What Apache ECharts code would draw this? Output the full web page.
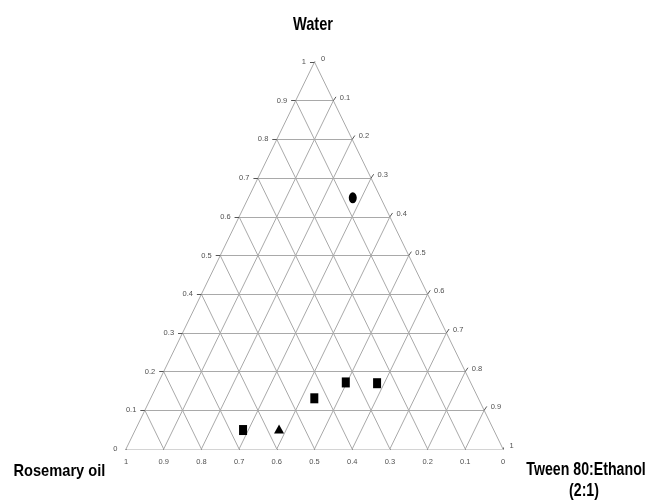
<!DOCTYPE html>
<html><head><meta charset="utf-8">
<script src="https://cdn.jsdelivr.net/npm/echarts@6/dist/echarts.min.js"></script>
<style>html,body{margin:0;padding:0;background:#fff}#c{width:649px;height:501px}</style>
</head><body><div id="c"></div>
<script>
// Tick values and labels
const tickValues = [0, 0.1, 0.2, 0.3, 0.4, 0.5, 0.6, 0.7, 0.8, 0.9, 1];
const waterLabels = ['0','0.1','0.2','0.3','0.4','0.5','0.6','0.7','0.8','0.9','1'];   // left side
const tweenLabels = ['0','0.1','0.2','0.3','0.4','0.5','0.6','0.7','0.8','0.9','1'];   // right side (top->bottom)
const oilLabels   = ['0','0.1','0.2','0.3','0.4','0.5','0.6','0.7','0.8','0.9','1'];   // bottom (right->left)

// Data points (fractions): water, tween, oil
const squareWater = [0.172, 0.170, 0.131, 0.049];
const squareTween = [0.497, 0.581, 0.434, 0.286];
const squareOil   = [0.331, 0.249, 0.435, 0.665];
const triWater = [0.052];
const triTween = [0.380];
const triOil   = [0.568];
const circWater = [0.649];
const circTween = [0.277];
const circOil   = [0.074];

// ternary -> cartesian (x in [0,1] across base, y = water)
function toXY(w, t) { return [t + w / 2, w]; }

const gridLines = [];
tickValues.forEach(v => {
  gridLines.push({coords: [toXY(v, 0), toXY(v, 1 - v)]});
  gridLines.push({coords: [toXY(0, v), toXY(1 - v, v)]});
  gridLines.push({coords: [toXY(0, 1 - v), toXY(1 - v, 0)]});
});
const tickMarks = [];
tickValues.forEach(v => {
  const l = toXY(v, 0);
  tickMarks.push({coords: [l, [l[0] - 0.012, l[1]]]});
  const r = toXY(1 - v, v);
  tickMarks.push({coords: [r, [r[0] + 0.007, r[1] + 0.01]]});
  const b = toXY(0, v);
  tickMarks.push({coords: [b, [b[0], b[1] - 0.01]]});
});

const lblStyle = {fontFamily: 'Liberation Sans, Arial', fontSize: 7.5, color: '#222'};
const leftLbl = tickValues.map((v, i) => ({value: toXY(v, 0), label: {formatter: waterLabels[i]}}));
const rightLbl = tickValues.map((v, i) => ({value: toXY(1 - v, v), label: {formatter: tweenLabels[i]}}));
const bottomLbl = tickValues.map((v, i) => ({value: toXY(0, v), label: {formatter: oilLabels[10 - i]}}));

const sq = squareWater.map((w, i) => toXY(w, squareTween[i]));
const tr = triWater.map((w, i) => toXY(w, triTween[i]));
const ci = circWater.map((w, i) => toXY(w, circTween[i]));

const chart = echarts.init(document.getElementById('c'), null, {renderer: 'canvas'});
const font = 'Liberation Sans, Arial, sans-serif';
const hidden = {color: 'rgba(0,0,0,0)'};
chart.setOption({
  animation: false,
  grid: {left: 126, right: 146, top: 62, bottom: 52},
  xAxis: {type: 'value', min: 0, max: 1, show: false},
  yAxis: {type: 'value', min: 0, max: 1, show: false},
  graphic: [
    {type: 'text', x: 313, y: 25, scaleX: 0.77,
     style: {text: 'Water', x: 0, y: 0, textAlign: 'center', textVerticalAlign: 'middle', font: 'bold 19px ' + font, fill: '#000'}},
    {type: 'text', x: 13.5, y: 471, scaleX: 0.86,
     style: {text: 'Rosemary oil', x: 0, y: 0, textAlign: 'left', textVerticalAlign: 'middle', font: 'bold 17px ' + font, fill: '#000'}},
    {type: 'text', x: 586, y: 470.5, scaleX: 0.81,
     style: {text: 'Tween 80:Ethanol', x: 0, y: 0, textAlign: 'center', textVerticalAlign: 'middle', font: 'bold 17.5px ' + font, fill: '#000'}},
    {type: 'text', x: 584, y: 491.5, scaleX: 0.81,
     style: {text: '(2:1)', x: 0, y: 0, textAlign: 'center', textVerticalAlign: 'middle', font: 'bold 17.5px ' + font, fill: '#000'}}
  ],
  series: [
    {type: 'lines', coordinateSystem: 'cartesian2d', silent: true, data: gridLines,
     lineStyle: {color: '#a9a9a9', width: 1, opacity: 1}},
    {type: 'lines', coordinateSystem: 'cartesian2d', silent: true, data: tickMarks,
     lineStyle: {color: '#555', width: 1, opacity: 1}},
    {type: 'scatter', data: leftLbl, symbolSize: 1, itemStyle: hidden,
     label: Object.assign({show: true, position: 'left', distance: 8}, lblStyle)},
    {type: 'scatter', data: rightLbl, symbolSize: 1, itemStyle: hidden,
     label: Object.assign({show: true, position: 'right', distance: 6, offset: [0, -3]}, lblStyle)},
    {type: 'scatter', data: bottomLbl, symbolSize: 1, itemStyle: hidden,
     label: Object.assign({show: true, position: 'bottom', distance: 8}, lblStyle)},
    {type: 'scatter', data: sq, symbol: 'rect', symbolSize: [8, 10], itemStyle: {color: '#000', opacity: 1}},
    {type: 'scatter', data: tr, symbol: 'triangle', symbolSize: [10, 9], itemStyle: {color: '#000', opacity: 1}},
    {type: 'scatter', data: ci, symbol: 'circle', symbolSize: [8, 11], itemStyle: {color: '#000', opacity: 1}}
  ]
});
</script></body></html>
